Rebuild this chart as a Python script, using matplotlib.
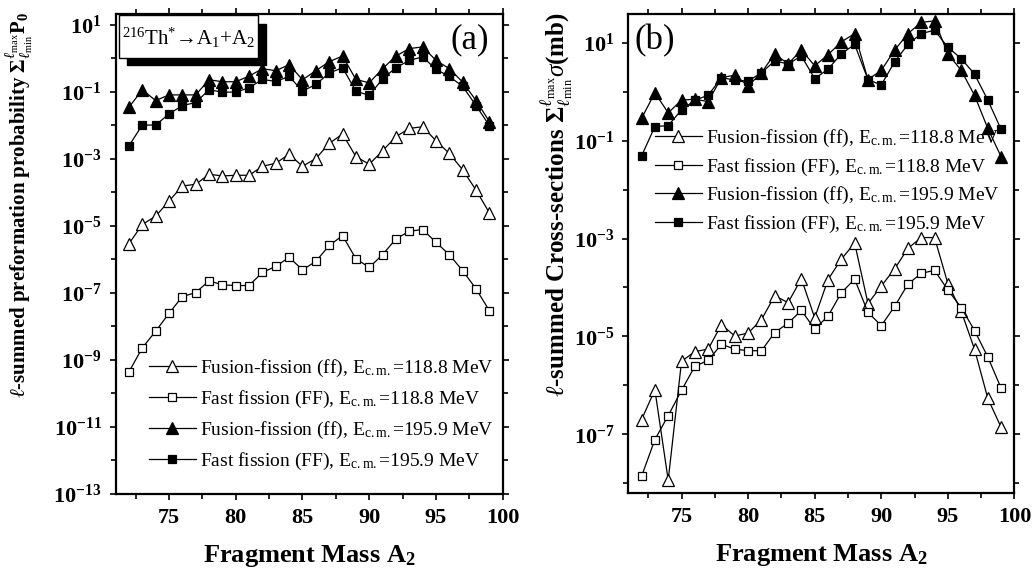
import numpy as np
import matplotlib
matplotlib.use("Agg")
import matplotlib.pyplot as plt
from matplotlib.patches import Rectangle
from matplotlib.ticker import FixedLocator, FixedFormatter

plt.rcParams.update({
    "font.family": "Liberation Serif",
    "mathtext.fontset": "custom",
    "mathtext.rm": "Liberation Serif",
    "mathtext.it": "Liberation Serif:italic",
    "mathtext.bf": "Liberation Serif:bold",
})

mass = list(range(72, 100))

# (a) preformation probability
P0_ff_118 = [2.95e-6, 1.10e-5, 1.95e-5, 5.5e-5, 1.55e-4, 1.74e-4, 3.47e-4, 3.09e-4,
             3.24e-4, 3.24e-4, 6.0e-4, 7.4e-4, 1.38e-3, 6.0e-4, 1.02e-3, 2.88e-3,
             5.5e-3, 1.17e-3, 6.9e-4, 1.74e-3, 4.6e-3, 8.1e-3, 9.1e-3, 3.47e-3,
             1.45e-3, 4.7e-4, 1.17e-4, 2.45e-5]
P0_FF_118 = [4.4e-10, 2.3e-9, 7.2e-9, 2.45e-8, 7.8e-8, 1.02e-7, 2.3e-7, 1.74e-7,
             1.66e-7, 1.66e-7, 4.1e-7, 6.2e-7, 1.15e-6, 4.9e-7, 8.7e-7, 2.6e-6,
             5.1e-6, 1.05e-6, 5.75e-7, 1.38e-6, 4.1e-6, 6.9e-6, 7.8e-6, 3.24e-6,
             1.38e-6, 4.6e-7, 1.32e-7, 2.95e-8]
P0_ff_196 = [0.0347, 0.115, 0.055, 0.081, 0.081, 0.081, 0.229, 0.20,
             0.20, 0.295, 0.49, 0.427, 0.646, 0.229, 0.427, 0.794,
             1.17, 0.234, 0.186, 0.49, 1.17, 1.95, 2.19, 0.87,
             0.49, 0.195, 0.055, 0.0129]
P0_FF_196 = [0.00245, 0.0102, 0.0102, 0.0219, 0.0389, 0.0479, 0.115, 0.098,
             0.098, 0.132, 0.234, 0.204, 0.288, 0.105, 0.166, 0.363,
             0.525, 0.105, 0.078, 0.245, 0.525, 0.87, 1.10, 0.468,
             0.288, 0.145, 0.0389, 0.0098]

# (b) cross-sections in mb
sig_ff_118 = [2.0e-7, 8.1e-7, 1.15e-8, 3.1e-6, 4.9e-6, 5.5e-6, 1.74e-5, 1.02e-5,
              1.17e-5, 2.2e-5, 6.8e-5, 4.9e-5, 1.51e-4, 2.4e-5, 1.45e-4, 3.8e-4,
              8.1e-4, 4.7e-5, 1.07e-4, 2.4e-4, 6.3e-4, 1.05e-3, 1.05e-3, 1.2e-4,
              3.3e-5, 5.5e-6, 5.4e-7, 1.38e-7]
sig_FF_118 = [1.38e-8, 7.8e-8, 2.4e-7, 7.9e-7, 2.45e-6, 3.24e-6, 6.9e-6, 5.5e-6,
              5.1e-6, 5.1e-6, 1.2e-5, 1.86e-5, 3.4e-5, 1.41e-5, 2.6e-5, 7.8e-5,
              1.48e-4, 3.1e-5, 1.66e-5, 4.1e-5, 1.17e-4, 1.95e-4, 2.24e-4, 8.9e-5,
              3.9e-5, 1.32e-5, 3.8e-6, 8.7e-7]
sig_ff_196 = [0.288, 0.955, 0.372, 0.676, 0.708, 0.63, 1.95, 2.19,
              1.32, 2.45, 6.0, 3.7, 7.2, 3.4, 5.75, 10.5,
              15.5, 1.78, 2.75, 7.1, 15.5, 26.3, 28.2, 6.0,
              2.75, 0.85, 0.178, 0.047]
sig_FF_196 = [0.049, 0.195, 0.204, 0.427, 0.676, 0.85, 1.95, 1.74,
              1.66, 2.45, 4.3, 3.7, 5.4, 1.86, 2.9, 6.0,
              9.3, 1.78, 1.38, 4.1, 9.3, 15.5, 18.2, 8.1,
              4.8, 2.3, 0.676, 0.17]

labels = [
    r"Fusion-fission (ff), E$_{\rm c.m.}$=118.8 MeV",
    r"Fast fission (FF), E$_{\rm c.m.}$=118.8 MeV",
    r"Fusion-fission (ff), E$_{\rm c.m.}$=195.9 MeV",
    r"Fast fission (FF), E$_{\rm c.m.}$=195.9 MeV",
]
markers = ["^", "s", "^", "s"]
faces = ["white", "white", "black", "black"]
sizes = [8.5, 6, 8.5, 6]

xticks = [75, 80, 85, 90, 95, 100]
xminor = [72.5, 77.5, 82.5, 87.5, 92.5, 97.5]


def style_axis(ax, major_exp, minor_exp, ylim):
    ax.set_yscale("log")
    ax.set_xlim(71, 100)
    ax.set_ylim(*ylim)

    ax.xaxis.set_major_locator(FixedLocator(xticks))
    ax.xaxis.set_minor_locator(FixedLocator(xminor))
    ax.set_xticklabels([str(t) for t in xticks], fontsize=16, fontweight="bold")

    ax.yaxis.set_major_locator(FixedLocator([10.0 ** e for e in major_exp]))
    ax.yaxis.set_major_formatter(FixedFormatter(
        [r"$\mathbf{10^{%d}}$" % e for e in major_exp]))
    ax.yaxis.set_minor_locator(FixedLocator([10.0 ** e for e in minor_exp]))
    ax.yaxis.set_minor_formatter(FixedFormatter([""] * len(minor_exp)))
    for lab in ax.get_yticklabels():
        lab.set_fontsize(16)

    ax.tick_params(which="both", direction="out", top=True, right=True,
                   width=1.2)
    ax.tick_params(which="major", length=4, pad=6)
    ax.tick_params(which="minor", length=3.5)
    for sp in ax.spines.values():
        sp.set_linewidth(1.6)

    ax.set_xlabel(r"Fragment Mass A$_\mathbf{2}$", fontsize=19,
                  fontweight="bold", labelpad=11)


def draw_series(ax, series):
    for y, lab, m, fc, ms in zip(series, labels, markers, faces, sizes):
        ax.plot(mass, y, color="black", linewidth=0.9, marker=m,
                markersize=ms, markerfacecolor=fc, markeredgecolor="black",
                markeredgewidth=0.9, label=lab)


fig = plt.figure(figsize=(10.34, 5.69), dpi=100)
ax_a = fig.add_axes([0.1118, 0.1318, 0.3744, 0.8436])
ax_b = fig.add_axes([0.6076, 0.1330, 0.3735, 0.8424])

# panel (a)
draw_series(ax_a, [P0_ff_118, P0_FF_118, P0_ff_196, P0_FF_196])
style_axis(ax_a, [1, -1, -3, -5, -7, -9, -11, -13],
           [0, -2, -4, -6, -8, -10, -12], (1e-13, 21))
ax_a.set_ylabel(r"$\ell$-summed preformation probability "
                r"$\mathbf{\Sigma}_{\ell_{\rm min}}^{\ell_{\rm max}}\mathbf{P}_\mathbf{0}$",
                fontsize=15, fontweight="bold")
ax_a.yaxis.set_label_coords(-0.208, 0.602)
ax_a.legend(loc="upper left", bbox_to_anchor=(0.086, 0.283), frameon=False,
            fontsize=14, borderpad=0, borderaxespad=0, handlelength=2.4,
            handletextpad=0.25, labelspacing=0.5)
ax_a.text(0.9155, 0.946, "(a)", transform=ax_a.transAxes, fontsize=25,
          ha="center", va="center")

# reaction box with drop shadow
ax_a.add_patch(Rectangle((0.0286, 0.894), 0.36, 0.085, transform=ax_a.transAxes,
                         facecolor="black", edgecolor="black", zorder=5,
                         clip_on=False))
ax_a.add_patch(Rectangle((0.0096, 0.9077), 0.359, 0.0903, transform=ax_a.transAxes,
                         facecolor="white", edgecolor="black", linewidth=1.0,
                         zorder=6, clip_on=False))
ax_a.text(0.189, 0.951, r"$^{216}$Th$^{*}$→A$_{1}$+A$_{2}$",
          transform=ax_a.transAxes, fontsize=15, ha="center", va="center",
          zorder=7)

# panel (b)
draw_series(ax_b, [sig_ff_118, sig_FF_118, sig_ff_196, sig_FF_196])
style_axis(ax_b, [1, -1, -3, -5, -7], [0, -2, -4, -6, -8], (6.2e-9, 39))
ax_b.set_ylabel(r"$\ell$-summed Cross-sections "
                r"$\mathbf{\Sigma}_{\ell_{\rm min}}^{\ell_{\rm max}}\sigma$(mb)",
                fontsize=18, fontweight="bold")
ax_b.yaxis.set_label_coords(-0.138, 0.602)
ax_b.legend(loc="upper left", bbox_to_anchor=(0.069, 0.762), frameon=False,
            fontsize=14, borderpad=0, borderaxespad=0, handlelength=2.4,
            handletextpad=0.25, labelspacing=0.38)
ax_b.text(0.017, 0.944, "(b)", transform=ax_b.transAxes, fontsize=25,
          ha="left", va="center")

fig.savefig("out.png", dpi=100)
